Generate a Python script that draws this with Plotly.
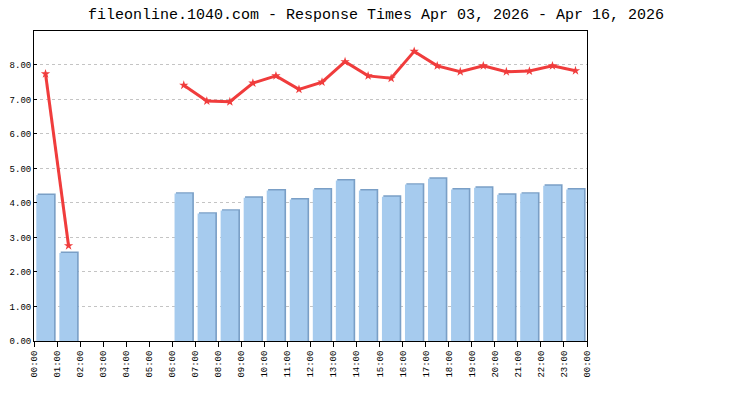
import plotly.graph_objects as go

# hourly response times (seconds), None = no data for that hour
hours = list(range(24))
hour_labels = [f"{h:02d}:00" for h in range(24)] + ["00:00"]
bar_values = [4.23, 2.55, None, None, None, None, 4.27, 3.69, 3.78, 4.15,
              4.36, 4.10, 4.39, 4.65, 4.36, 4.18, 4.53, 4.70, 4.39, 4.44,
              4.24, 4.27, 4.50, 4.39]
line_values = [7.74, 2.76, None, None, None, None, 7.41, 6.95, 6.93, 7.47,
               7.68, 7.29, 7.50, 8.09, 7.68, 7.61, 8.39, 7.97, 7.80, 7.97,
               7.80, 7.82, 7.97, 7.83]

title_text = "fileonline.1040.com - Response Times Apr 03, 2026 - Apr 16, 2026"

BAR_COLOR = "#A6CBEE"
SHADOW_COLOR = "#7A9FC6"
LINE_COLOR = "#F03C3C"
FONT = "Liberation Mono"

# the page body adds a small margin, so the figure is shifted up/left to compensate
SHIFT = 7
LEFT = 26  # keeps the y tick labels inside the figure

fig = go.Figure()

# shadow behind each bar (shifted right and up a little)
fig.add_trace(go.Bar(
    x=hours,
    y=[v + 0.04 if v is not None else None for v in bar_values],
    offset=0.16,
    width=0.78,
    marker=dict(color=SHADOW_COLOR, line=dict(width=0)),
    hoverinfo="skip",
    showlegend=False
))

fig.add_trace(go.Bar(
    x=hours,
    y=bar_values,
    offset=0.10,
    width=0.77,
    marker=dict(color=BAR_COLOR, line=dict(width=0)),
    showlegend=False,
    hovertemplate="%{y:.2f}<extra></extra>"
))

fig.add_trace(go.Scatter(
    x=[h + 0.5 for h in hours],
    y=line_values,
    mode="lines+markers",
    line=dict(color=LINE_COLOR, width=3),
    marker=dict(symbol="star", size=7, color=LINE_COLOR),
    connectgaps=False,
    showlegend=False,
    hovertemplate="%{y:.2f}<extra></extra>"
))

fig.update_layout(
    width=750,
    height=400,
    barmode="overlay",
    plot_bgcolor="white",
    paper_bgcolor="white",
    margin=dict(l=LEFT, r=750 - LEFT - 553, t=30 - SHIFT, b=60 + SHIFT, autoexpand=False),
    title=dict(
        text=title_text,
        x=(375 - SHIFT) / 750, xanchor="center",
        y=1 - (13 - SHIFT) / 400, yanchor="middle",
        font=dict(family=FONT, size=15, color="black")
    ),
    font=dict(family=FONT, color="black"),
    xaxis=dict(
        range=[0, 24],
        tickmode="array",
        tickvals=list(range(25)),
        ticktext=hour_labels,
        tickangle=-90,
        tickfont=dict(size=9),
        ticks="outside",
        ticklen=5,
        tickcolor="black",
        showgrid=False,
        zeroline=False,
        showline=True,
        linecolor="black",
        linewidth=1,
        mirror=True
    ),
    yaxis=dict(
        range=[0, 8.98],
        tickmode="linear",
        tick0=0,
        dtick=1,
        tickformat=".2f",
        tickfont=dict(size=9),
        ticks="inside",
        ticklen=3,
        tickcolor="black",
        showgrid=True,
        gridcolor="#C4C4C4",
        griddash="3px,3px",
        gridwidth=1,
        zeroline=False,
        showline=True,
        linecolor="black",
        linewidth=1,
        mirror=True
    )
)

fig.write_html("out.html")
